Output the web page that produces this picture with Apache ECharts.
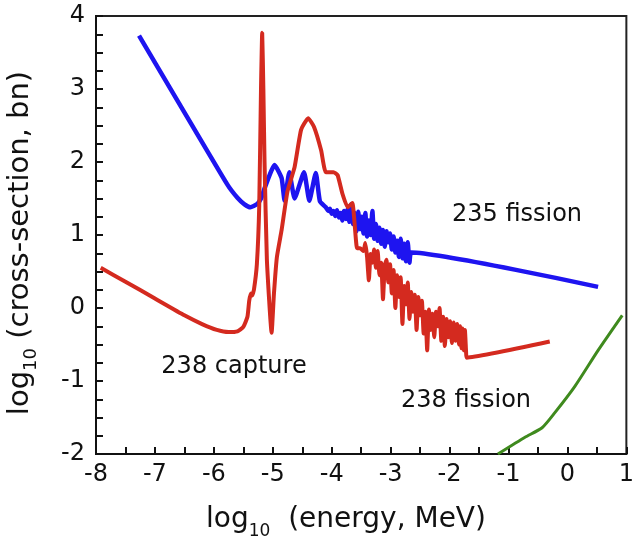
<!DOCTYPE html>
<html>
<head>
<meta charset="utf-8">
<script src="https://cdn.jsdelivr.net/npm/echarts@6/dist/echarts.min.js"></script>
<style>
  html, body { margin: 0; padding: 0; background: #fff; }
  #chart { width: 637px; height: 545px; }
</style>
</head>
<body>
<div id="chart"></div>
<script>
// log10(energy / MeV) and log10(cross-section / barn) for each reaction

// U-235 fission
const u235FissionE = [-7.27, -6.5, -5.77, -5.6, -5.48, -5.38, -5.27, -5.2, -5.13, -4.97,
  -4.85, -4.8, -4.72, -4.63, -4.47, -4.38, -4.27, -4.2,
  -4.10, -4.06, -4.03, -4.00, -3.97, -3.94, -3.91, -3.88, -3.85, -3.82, -3.79, -3.76,
  -3.73, -3.70, -3.67, -3.64, -3.61, -3.58, -3.55, -3.52, -3.49, -3.46, -3.43, -3.40,
  -3.37, -3.34, -3.31, -3.28, -3.25, -3.22, -3.19, -3.16, -3.13, -3.10, -3.07, -3.04,
  -3.01, -2.98, -2.95, -2.92, -2.89, -2.86, -2.83, -2.80, -2.77, -2.74, -2.71, -2.68,
  -2.65, 0.52];
const u235FissionXs = [3.73, 2.68, 1.69, 1.51, 1.42, 1.38, 1.42, 1.5, 1.66, 1.96,
  1.78, 1.47, 1.86, 1.50, 1.86, 1.47, 1.85, 1.46,
  1.38, 1.33, 1.36, 1.29, 1.33, 1.26, 1.34, 1.24, 1.30, 1.20, 1.33, 1.22,
  1.35, 1.18, 1.42, 1.15, 1.30, 1.05, 1.32, 1.08, 1.25, 1.02, 1.30, 0.98,
  1.20, 1.00, 1.33, 0.95, 1.15, 0.92, 1.10, 0.88, 1.07, 0.84, 1.05, 0.90,
  1.02, 0.80, 0.98, 0.76, 0.92, 0.70, 0.95, 0.68, 0.88, 0.64, 0.90, 0.62,
  0.76, 0.29];

// U-238 capture
const u238CaptureE = [-7.92, -7.5, -7.0, -6.5, -6.2, -5.95, -5.75, -5.6, -5.5, -5.43,
  -5.4, -5.37, -5.35, -5.32, -5.27, -5.23, -5.2, -5.18, -5.16, -5.14, -5.1, -5.02,
  -4.98, -4.93, -4.85, -4.75, -4.63, -4.52, -4.4, -4.3, -4.18, -4.1, -3.97, -3.9,
  -3.82, -3.73, -3.65, -3.57, -3.52, -3.46,
  -3.43, -3.40, -3.37, -3.34, -3.31, -3.28, -3.25, -3.22, -3.19, -3.16, -3.13, -3.10,
  -3.07, -3.04, -3.01, -2.98, -2.95, -2.92, -2.89, -2.86, -2.83, -2.80, -2.77, -2.74,
  -2.71, -2.68, -2.65, -2.62, -2.59, -2.56, -2.53, -2.50, -2.47, -2.44, -2.41, -2.38,
  -2.35, -2.32, -2.29, -2.26, -2.23, -2.20, -2.17, -2.14, -2.11, -2.08, -2.05, -2.02,
  -1.99, -1.96, -1.93, -1.90, -1.87, -1.84, -1.82, -1.80, -1.78, -1.76, -1.74, -1.72,
  -1.71, -0.3];
const u238CaptureXs = [0.55, 0.36, 0.13, -0.1, -0.22, -0.3, -0.33, -0.32, -0.26, -0.12,
  0.1, 0.2, 0.17, 0.25, 0.6, 1.4, 3.0, 3.77, 3.0, 2.0, 0.66, -0.34,
  0.2, 0.7, 1.07, 1.6, 1.93, 2.44, 2.6, 2.48, 2.16, 1.86, 1.86, 1.82,
  1.57, 1.38, 1.44, 0.82, 0.82, 0.78,
  0.89, 0.70, 0.38, 0.74, 0.62, 0.80, 0.55, 0.78, 0.45, 0.62, 0.12, 0.58,
  0.66, 0.35, 0.60, 0.20, 0.52, 0.00, 0.45, 0.15, 0.42, -0.22, 0.30, 0.05,
  0.35, -0.15, 0.22, -0.05, 0.18, -0.30, 0.15, -0.10, 0.10, -0.35, -0.05, -0.58,
  -0.02, -0.30, -0.08, -0.40, -0.05, -0.25, 0.00, -0.45, -0.12, -0.52, -0.15, -0.40,
  -0.18, -0.48, -0.20, -0.45, -0.22, -0.50, -0.25, -0.55, -0.28, -0.58, -0.30, -0.60,
  -0.68, -0.46];

// U-238 fission
const u238FissionE = [-1.18, -0.72, -0.43, -0.22, 0.12, 0.52, 0.93];
const u238FissionXs = [-2.0, -1.77, -1.64, -1.44, -1.08, -0.58, -0.1];

// Axis ranges
const xRange = [-8, 1];
const yRange = [-2, 4];

const pairs = (xs, ys) => xs.map((x, i) => [x, ys[i]]);

const FONT = 'DejaVu Sans';
const chart = echarts.init(document.getElementById('chart'), null, { renderer: 'canvas' });

const intLabel = v => (Math.abs(v - Math.round(v)) < 1e-9 ? String(Math.round(v)) : '');

chart.setOption({
  animation: false,
  backgroundColor: '#ffffff',
  grid: {
    left: 96, right: 2, top: 16, bottom: 91,
    show: true, borderColor: '#222', borderWidth: 2, backgroundColor: 'transparent'
  },
  xAxis: {
    type: 'value', min: xRange[0], max: xRange[1], interval: 0.5,
    axisLine: { show: true, onZero: false, lineStyle: { color: '#111', width: 2 } },
    axisTick: { show: true, inside: true, length: 7, lineStyle: { color: '#111', width: 2 } },
    splitLine: { show: false },
    axisLabel: { formatter: intLabel, color: '#111', fontFamily: FONT, fontSize: 24, margin: 9 }
  },
  yAxis: {
    type: 'value', min: yRange[0], max: yRange[1], interval: 0.25,
    axisLine: { show: true, onZero: false, lineStyle: { color: '#111', width: 2 } },
    axisTick: { show: true, inside: true, length: 7, lineStyle: { color: '#111', width: 2 } },
    splitLine: { show: false },
    axisLabel: { formatter: intLabel, color: '#111', fontFamily: FONT, fontSize: 24, margin: 11 }
  },
  series: [
    {
      name: '235 fission', type: 'line', showSymbol: false, smooth: 0.15,
      data: pairs(u235FissionE, u235FissionXs),
      lineStyle: { color: '#1e14f0', width: 4.5 }, z: 2
    },
    {
      name: '238 fission', type: 'line', showSymbol: false, smooth: 0.2,
      data: pairs(u238FissionE, u238FissionXs),
      lineStyle: { color: '#3f8a1e', width: 3 }, z: 2
    },
    {
      name: '238 capture', type: 'line', showSymbol: false, smooth: 0.15,
      data: pairs(u238CaptureE, u238CaptureXs),
      lineStyle: { color: '#d42a1f', width: 4 }, z: 3
    }
  ],
  graphic: [
    { type: 'text', x: 517, y: 215, style: { text: '235 fission', font: '24px ' + FONT, fill: '#111', align: 'center', verticalAlign: 'middle' } },
    { type: 'text', x: 234, y: 367, style: { text: '238 capture', font: '24px ' + FONT, fill: '#111', align: 'center', verticalAlign: 'middle' } },
    { type: 'text', x: 466, y: 401, style: { text: '238 fission', font: '24px ' + FONT, fill: '#111', align: 'center', verticalAlign: 'middle' } },
    {
      type: 'text', x: 346, y: 523,
      style: {
        text: '{m|log}{s|10}{m|  (energy, MeV)}',
        align: 'center', verticalAlign: 'middle', fill: '#111',
        rich: {
          m: { fontFamily: FONT, fontSize: 28, fill: '#111', verticalAlign: 'bottom', padding: [0, 0, 6, 0] },
          s: { fontFamily: FONT, fontSize: 17, fill: '#111', verticalAlign: 'bottom' }
        }
      }
    },
    {
      type: 'text', x: 23, y: 243, rotation: Math.PI / 2,
      style: {
        text: '{m|log}{s|10}{m| (cross-section, bn)}',
        align: 'center', verticalAlign: 'middle', fill: '#111',
        rich: {
          m: { fontFamily: FONT, fontSize: 29, fill: '#111', verticalAlign: 'bottom', padding: [0, 0, 6, 0] },
          s: { fontFamily: FONT, fontSize: 18, fill: '#111', verticalAlign: 'bottom' }
        }
      }
    }
  ]
});
</script>
</body>
</html>
